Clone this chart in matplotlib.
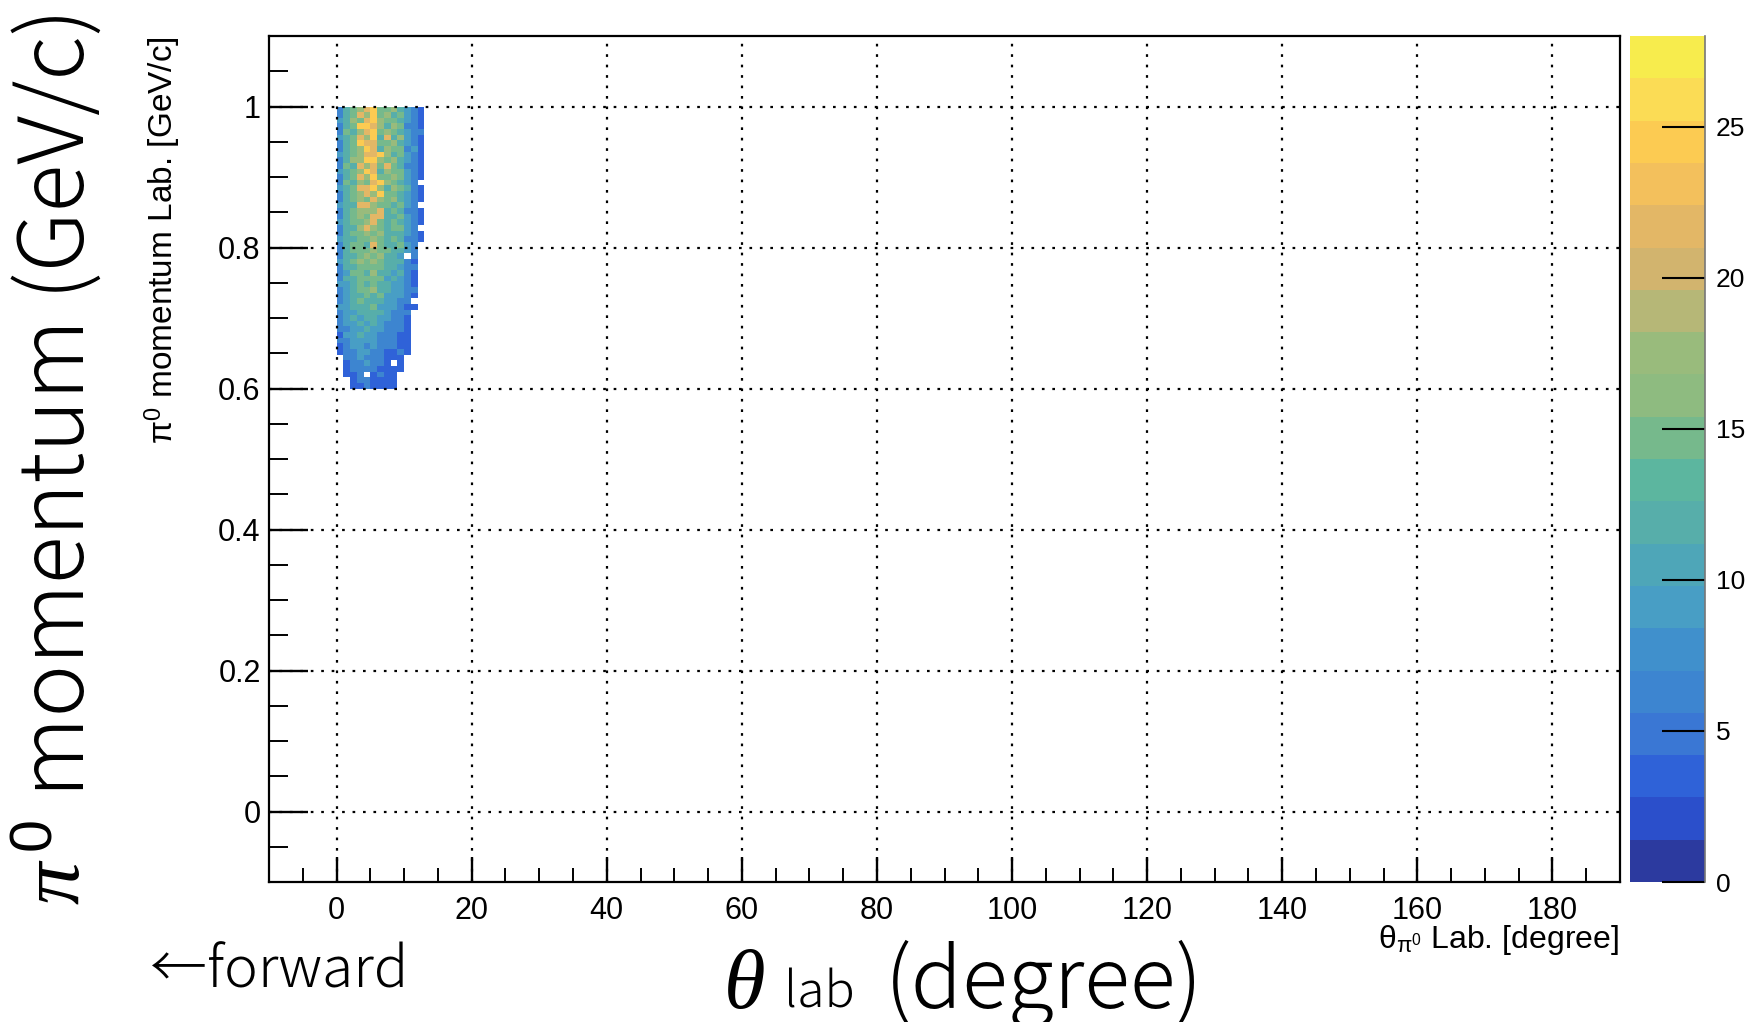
import numpy as np
import matplotlib
matplotlib.use("Agg")
import matplotlib.pyplot as plt
from matplotlib.colors import ListedColormap, BoundaryNorm

W, H = 1757, 1022

# ---- data: 2D histogram (counts), rows from p=1.0 (top) down to p=0.6 ----
theta_edges = np.arange(0, 14, 1.0)            # degree, 13 bins
p_edges = np.linspace(1.0, 0.6, 51)             # GeV/c, 50 bins (top -> bottom)
count_scale = 3                                  # each digit = 3 counts
rows = [
    "2456785564321", "2457685645321", "3465786554321", "2458876465221",
    "2546785654322", "3457684746321", "2458775564321", "2456874655231",
    "3456778645321", "2466886564321", "2547675754221", "3456874655321",
    "2457685565321", "2546578654320", "3457786465421", "2456768554321",
    "2456576564321", "3447765545320", "2456667454221", "2456577445321",
    "3455675454321", "2446765455320", "2455656444321", "3445565454221",
    "2455475445320", "2455565544320", "2445656443020", "3456565444210",
    "2445555443220", "2355464434210", "2445555343210", "3345454433210",
    "2345564433220", "2344545333210", "2345444332200", "3344453332110",
    "2334444322200", "2343443322100", "2334343222100", "2233433222100",
    "1334332221100", "2233332221100", "1233232221100", "1223322112100",
    "0223222111000", "0122322101000", "0122221111000", "0112012110000",
    "0012211110000", "0011211110000",
]
x_ticks = [0, 20, 40, 60, 80, 100, 120, 140, 160, 180]
y_ticks = [0, 0.2, 0.4, 0.6, 0.8, 1.0]
y_ticklabels = ["0", "0.2", "0.4", "0.6", "0.8", "1"]
z_ticks = [0, 5, 10, 15, 20, 25]
z_max = 28
n_levels = 20

counts = np.array([[int(c) * count_scale for c in r] for r in rows], dtype=float)
counts = np.ma.masked_equal(counts, 0)

# palette bands as seen in the reference colour bar (bottom -> top)
band_colors = ["#2c3a9f", "#2b4fcb", "#2f62d8", "#3a77d4", "#3d85d0", "#4090cc",
               "#489ec5", "#4ea6b8", "#57aeaa", "#5cb69f", "#76b98c", "#8ebb80",
               "#99bb7c", "#b6b777", "#d2b46e", "#e3b766", "#f3c05c", "#fccb52",
               "#fbdc55", "#f7ec4d"]
cmap = ListedColormap(band_colors)
bounds = np.linspace(0, z_max, n_levels + 1)
norm = BoundaryNorm(bounds, cmap.N)

plt.rcParams['font.family'] = ['Liberation Sans', 'DejaVu Sans']
plt.rcParams['mathtext.fontset'] = 'custom'
plt.rcParams['mathtext.rm'] = 'Liberation Sans'
plt.rcParams['mathtext.it'] = 'Liberation Serif:italic'
plt.rcParams['mathtext.bf'] = 'Liberation Sans:bold'

fig = plt.figure(figsize=(W / 100, H / 100), dpi=100)
fig.patch.set_facecolor("white")

def fx(px):
    return px / W

def fy(py):
    return 1 - py / H

ax_l, ax_r, ax_t, ax_b = 269, 1620, 36, 882
ax = fig.add_axes([fx(ax_l), fy(ax_b), fx(ax_r - ax_l), (ax_b - ax_t) / H])

ax.pcolormesh(theta_edges, p_edges, counts, cmap=cmap, norm=norm, shading="flat", zorder=1)

ax.set_xlim(-10, 190)
ax.set_ylim(-0.1, 1.1)
ax.set_xticks(x_ticks)
ax.set_xticks(np.arange(-5, 190, 5), minor=True)
ax.set_yticks(y_ticks)
ax.set_yticklabels(y_ticklabels)
ax.set_yticks(np.arange(-0.05, 1.1, 0.05), minor=True)
ax.tick_params(axis="both", which="both", direction="in", colors="black", labelsize=22)
ax.tick_params(axis="x", which="major", length=18, width=1.7, pad=10)
ax.tick_params(axis="x", which="minor", length=10, width=1.4)
ax.tick_params(axis="y", which="major", length=28, width=1.7, pad=6)
ax.tick_params(axis="y", which="minor", length=14, width=1.4)
ax.grid(True, which="major", color="black", linestyle=(0, (1.2, 3.5)), linewidth=1.6, zorder=2)
ax.set_axisbelow(False)
for s in ax.spines.values():
    s.set_linewidth(1.6)

# ROOT axis titles
fig.text(fx(163), fy(36), r"π$^{0}$ momentum Lab. [GeV/c]", rotation=90,
         ha="center", va="top", fontsize=24)
fig.text(fx(1619), fy(940), r"θ$_{\mathrm{π}^{0}}$ Lab. [degree]",
         ha="right", va="center", fontsize=23)

# colour bar
cax = fig.add_axes([fx(1630), fy(ax_b), fx(75), (ax_b - ax_t) / H])
cax.pcolormesh([0, 1], bounds, bounds[:-1, None] + 0.01, cmap=cmap, norm=norm, shading="flat")
cax.set_xlim(0, 1)
cax.set_ylim(0, z_max)
cax.set_xticks([])
cax.yaxis.tick_right()
cax.set_yticks(z_ticks)
cax.tick_params(axis="y", direction="in", length=31, width=1.5, labelsize=19, pad=8)
for k, s in cax.spines.items():
    s.set_visible(k == "right")
    s.set_color("#777777")
    s.set_linewidth(1.2)

# presentation labels
big = ['Noto Sans CJK JP', 'DejaVu Sans']
fig.text(fx(58), fy(905), r"$\pi^{\,0}$", rotation=90, ha="center", va="bottom",
         fontsize=61)
fig.text(fx(58), fy(797), "momentum (GeV/c)", rotation=90, ha="center", va="bottom",
         fontsize=64, family=big, fontweight="light")
fig.text(fx(723), fy(1008), r"$\theta$", ha="left", va="baseline", fontsize=61)
fig.text(fx(784), fy(1008), "lab", ha="left", va="baseline", fontsize=36, family=big,
         fontweight="light")
fig.text(fx(885), fy(1008), "(degree)", ha="left", va="baseline", fontsize=61, family=big,
         fontweight="light")
fig.text(fx(150), fy(988), "←forward", ha="left", va="baseline", fontsize=41, family=big,
         fontweight="light")

fig.savefig("out.png", dpi=100)
